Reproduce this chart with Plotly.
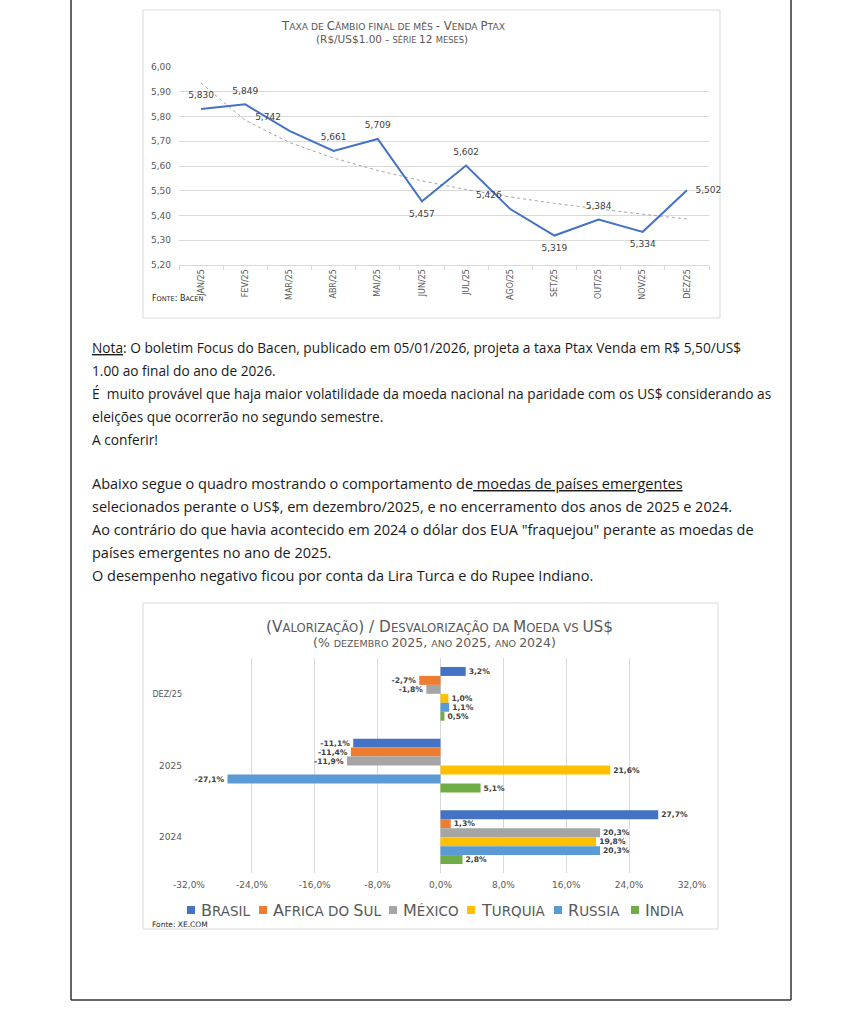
import plotly.graph_objects as go

W, H = 859, 1024


def px(x):
    return x / W


def py(y):
    return 1 - y / H


# ---------------- data ----------------
months = ["JAN/25", "FEV/25", "MAR/25", "ABR/25", "MAI/25", "JUN/25",
          "JUL/25", "AGO/25", "SET/25", "OUT/25", "NOV/25", "DEZ/25"]
ptax = [5.830, 5.849, 5.742, 5.661, 5.709, 5.457,
        5.602, 5.426, 5.319, 5.384, 5.334, 5.502]
trend = [5.935, 5.785, 5.695, 5.632, 5.582, 5.540,
         5.505, 5.475, 5.449, 5.426, 5.405, 5.386]
y1_ticks = [5.20, 5.30, 5.40, 5.50, 5.60, 5.70, 5.80, 5.90, 6.00]

periods = ["DEZ/25", "2025", "2024"]
countries = ["Brasil", "Africa do Sul", "México", "Turquia", "Russia", "India"]
brasil = [3.2, -11.1, 27.7]
africa_sul = [-2.7, -11.4, 1.3]
mexico = [-1.8, -11.9, 20.3]
turquia = [1.0, 21.6, 19.8]
russia = [1.1, -27.1, 20.3]
india = [0.5, 5.1, 2.8]
x2_ticks = [-32, -24, -16, -8, 0, 8, 16, 24, 32]

text_lines_1 = [
    "<u>Nota</u>: O boletim Focus do Bacen, publicado em 05/01/2026, projeta a taxa Ptax Venda em R$ 5,50/US$",
    "1.00 ao final do ano de 2026.",
    "É\u00a0 muito provável que haja maior volatilidade da moeda nacional na paridade com os US$ considerando as",
    "eleições que ocorrerão no segundo semestre.",
    "A conferir!",
]
text_lines_2 = [
    "Abaixo segue o quadro mostrando o comportamento de<u>\u00a0moedas de países emergentes</u>",
    "selecionados perante o US$, em dezembro/2025, e no encerramento dos anos de 2025 e 2024.",
    "Ao contrário do que havia acontecido em 2024 o dólar dos EUA \"fraquejou\" perante as moedas de",
    "países emergentes no ano de 2025.",
    "O desempenho negativo ficou por conta da Lira Turca e do Rupee Indiano.",
]

# ---------------- styles ----------------
label_pos = ["top center", "top center", "top left", "top center", "top center",
             "bottom center", "top center", "top left", "bottom center",
             "top center", "bottom center", "middle right"]
colors = ["#4472C4", "#ED7D31", "#A5A5A5", "#FFC000", "#5B9BD5", "#70AD47"]
legend_x = [191, 263, 393, 471, 558, 635]   # legend key positions (px)
FONT = "DejaVu Sans"
GRAY = "#595959"
GRID = "#D9D9D9"


def smallcaps(s, big, small):
    out = []
    cur = None
    buf = ""
    for ch in s:
        if ch.isalpha() and ch.islower():
            kind = "s"
            c = ch.upper()
        elif ch == " " and cur is not None:
            kind = cur
            c = ch
        else:
            kind = "b"
            c = ch
        if kind != cur and buf:
            size = big if cur == "b" else small
            out.append(f"<span style='font-size:{size}px'>{buf}</span>")
            buf = ""
        cur = kind
        buf += c
    if buf:
        size = big if cur == "b" else small
        out.append(f"<span style='font-size:{size}px'>{buf}</span>")
    return "".join(out)


def fmt_pct(v):
    return f"{v:.1f}".replace(".", ",") + "%"


fig = go.Figure()

# ---------------- chart 1: line ----------------
fig.add_trace(go.Scatter(
    x=months, y=trend, mode="lines",
    line=dict(color="#A5A5A5", width=1, dash="dot"),
    showlegend=False, hoverinfo="skip", xaxis="x", yaxis="y"))
fig.add_trace(go.Scatter(
    x=months, y=ptax, mode="lines+markers+text",
    line=dict(color="#4472C4", width=2),
    marker=dict(size=12, color="rgba(0,0,0,0)"),
    text=[f"{v:.3f}".replace(".", ",") for v in ptax],
    textposition=label_pos,
    textfont=dict(family=FONT, size=9, color="#404040"),
    cliponaxis=False, showlegend=False, xaxis="x", yaxis="y"))

# ---------------- chart 2: bars ----------------
series = [brasil, africa_sul, mexico, turquia, russia, india]
for name, vals, col in zip(countries, series, colors):
    fig.add_trace(go.Bar(
        y=periods, x=vals, orientation="h",
        name=name, showlegend=False,
        marker=dict(color=col, line=dict(width=0)),
        text=[f"<b>{fmt_pct(v)}</b>" for v in vals],
        textposition="outside",
        textfont=dict(family=FONT, size=8.5, color="#404040"),
        cliponaxis=False,
        xaxis="x2", yaxis="y2"))

# ---------------- layout ----------------
annotations = []
shapes = []
# chart 1 titles
annotations.append(dict(
    text=smallcaps("Taxa de Câmbio final de mês - Venda Ptax", 11.7, 9.2),
    x=px(393), y=py(26), xref="paper", yref="paper", showarrow=False,
    xanchor="center", yanchor="middle", font=dict(family=FONT, color=GRAY)))
annotations.append(dict(
    text=smallcaps("(R$/US$1.00 - série 12 meses)", 10.5, 8.3),
    x=px(392), y=py(39), xref="paper", yref="paper", showarrow=False,
    xanchor="center", yanchor="middle", font=dict(family=FONT, color=GRAY)))
annotations.append(dict(
    text=smallcaps("Fonte: Bacen", 8, 6.5),
    x=px(150), y=py(298), xref="paper", yref="paper", showarrow=False,
    xanchor="left", yanchor="middle", font=dict(family=FONT, color="#262626")))
# chart 2 titles
annotations.append(dict(
    text=smallcaps("(Valorização) / Desvalorização da Moeda vs US$", 15.3, 11.7),
    x=px(439), y=py(627), xref="paper", yref="paper", showarrow=False,
    xanchor="center", yanchor="middle", font=dict(family=FONT, color=GRAY)))
annotations.append(dict(
    text=smallcaps("(% dezembro 2025, ano 2025, ano 2024)", 12.5, 9.5),
    x=px(434), y=py(642), xref="paper", yref="paper", showarrow=False,
    xanchor="center", yanchor="middle", font=dict(family=FONT, color=GRAY)))
annotations.append(dict(
    text="Fonte: XE.COM",
    x=px(150), y=py(924), xref="paper", yref="paper", showarrow=False,
    xanchor="left", yanchor="middle", font=dict(family=FONT, size=7.5, color="#262626")))

# legend (key squares + small-caps labels)
for name, col, lx in zip(countries, colors, legend_x):
    shapes.append(dict(type="rect", xref="paper", yref="paper",
                       x0=px(lx - 4), x1=px(lx + 4), y0=py(914), y1=py(906),
                       fillcolor=col, line=dict(width=0)))
    annotations.append(dict(
        text=smallcaps(name, 16, 13.5), x=px(lx + 8), y=py(910.5),
        xref="paper", yref="paper", showarrow=False,
        xanchor="left", yanchor="middle", font=dict(family=FONT, color=GRAY)))

# body text
for i, line in enumerate(text_lines_1):
    annotations.append(dict(
        text=line, x=px(90), y=py(347 + 23 * i), xref="paper", yref="paper",
        showarrow=False, xanchor="left", yanchor="middle",
        font=dict(family="Open Sans", size=13.7, color="#1a1a1a")))
for i, line in enumerate(text_lines_2):
    annotations.append(dict(
        text=line, x=px(90), y=py(483 + 23 * i), xref="paper", yref="paper",
        showarrow=False, xanchor="left", yanchor="middle",
        font=dict(family="Open Sans", size=14.5, color="#1a1a1a")))

shapes += [
    # chart boxes
    dict(type="rect", xref="paper", yref="paper", x0=px(143), x1=px(720), y0=py(318), y1=py(10),
         line=dict(color=GRID, width=1), layer="below"),
    dict(type="rect", xref="paper", yref="paper", x0=px(143), x1=px(718), y0=py(929), y1=py(603),
         line=dict(color=GRID, width=1), layer="below"),
    # page frame
    dict(type="line", xref="paper", yref="paper", x0=px(71), x1=px(71), y0=py(1000), y1=py(0),
         line=dict(color="#333333", width=1.5)),
    dict(type="line", xref="paper", yref="paper", x0=px(791), x1=px(791), y0=py(1000), y1=py(0),
         line=dict(color="#333333", width=1.5)),
    dict(type="line", xref="paper", yref="paper", x0=px(71), x1=px(791), y0=py(1000), y1=py(1000),
         line=dict(color="#333333", width=1.5)),
]

fig.update_layout(
    width=W, height=H,
    margin=dict(l=0, r=0, t=0, b=0, pad=0, autoexpand=False),
    paper_bgcolor="white", plot_bgcolor="white",
    separators=",.",
    font=dict(family=FONT, color=GRAY),
    barmode="group", bargap=0.25, bargroupgap=0,
    showlegend=False,
    xaxis=dict(domain=[px(179), px(709)], anchor="y", type="category",
               range=[-0.5, len(months) - 0.5],
               showgrid=False, showline=True, linecolor=GRID, linewidth=1,
               ticks="outside", tickson="boundaries", ticklen=4, tickcolor=GRID,
               tickangle=-90, tickfont=dict(family=FONT, size=8, color=GRAY),
               automargin=False, fixedrange=True),
    yaxis=dict(domain=[py(265), py(67)], anchor="x", range=[5.2, 6.0],
               tickvals=y1_ticks, tickformat=".2f",
               showgrid=True, gridcolor=GRID, gridwidth=1, zeroline=False,
               showline=False, ticks="", automargin=False, ticklabelstandoff=7,
               tickfont=dict(family=FONT, size=9, color=GRAY), fixedrange=True),
    xaxis2=dict(domain=[px(189), px(692)], anchor="y2", range=[-32, 32],
                tickvals=x2_ticks, ticktext=[fmt_pct(v) for v in x2_ticks],
                showgrid=True, gridcolor=GRID, gridwidth=1, zeroline=False,
                showline=False, ticks="", automargin=False, ticklabelstandoff=5,
                tickfont=dict(family=FONT, size=9, color=GRAY), fixedrange=True),
    yaxis2=dict(domain=[py(873), py(658)], anchor="x2", type="category",
                categoryorder="array", categoryarray=periods, autorange="reversed",
                tickvals=periods,
                ticktext=["<span style='font-size:8px'>DEZ/25</span>", "2025", "2024"],
                showgrid=False, zeroline=False, showline=False, ticks="",
                ticklabelstandoff=6, automargin=False,
                tickfont=dict(family=FONT, size=9, color=GRAY), fixedrange=True),
    annotations=annotations,
    shapes=shapes,
)

fig.write_html("out.html", post_script="document.body.style.margin='0';",
               config={"displayModeBar": False})
